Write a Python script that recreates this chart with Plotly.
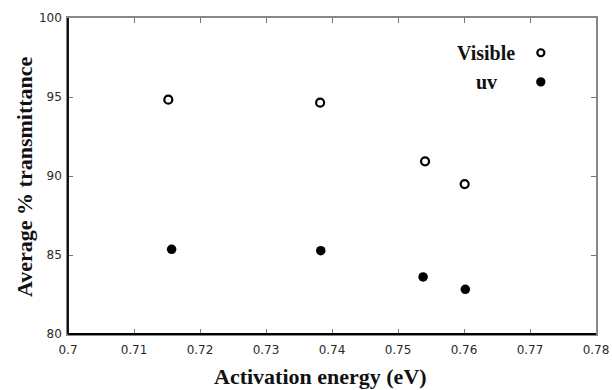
import plotly.graph_objects as go

# Data
activation_vis = [0.7152, 0.7382, 0.7541, 0.7601]
transmit_vis = [94.83, 94.64, 90.93, 89.49]
activation_uv = [0.7157, 0.7383, 0.7538, 0.7602]
transmit_uv = [85.36, 85.27, 83.61, 82.83]
legend_labels = ["Visible", "uv"]
x_title = "Activation energy (eV)"
y_title = "Average % transmittance"

fig = go.Figure()
fig.add_trace(go.Scatter(
    x=activation_vis, y=transmit_vis, mode="markers", name=legend_labels[0],
    marker=dict(symbol="circle-open", size=8, color="black", line=dict(width=2.2, color="black")),
    showlegend=False))
fig.add_trace(go.Scatter(
    x=activation_uv, y=transmit_uv, mode="markers", name=legend_labels[1],
    marker=dict(symbol="circle", size=9.5, color="black"),
    showlegend=False))

serif = "Liberation Serif, Times New Roman, serif"
tickfont = dict(family="DejaVu Sans, sans-serif", size=12, color="#2a2a2a")

fig.update_layout(
    width=612, height=390,
    margin=dict(l=68, r=16, t=18, b=56),
    paper_bgcolor="white", plot_bgcolor="white",
    xaxis=dict(range=[0.7, 0.78], dtick=0.01, tick0=0.7, showgrid=False, zeroline=False,
               automargin=False,
               showline=True, linecolor="#888", linewidth=1.5, mirror="ticks",
               ticks="inside", ticklen=5, tickcolor="#777", tickwidth=1,
               ticklabelstandoff=4, tickfont=tickfont),
    yaxis=dict(range=[80, 100], dtick=5, showgrid=False, zeroline=False,
               automargin=False,
               showline=True, linecolor="#888", linewidth=1.5, mirror="ticks",
               ticks="inside", ticklen=5, tickcolor="#777", tickwidth=1,
               ticklabelstandoff=2, tickfont=tickfont),
)

# Axis titles
fig.add_annotation(x=0.479, y=-0.1335, xref="paper", yref="paper", text=f"<b>{x_title}</b>",
                   showarrow=False, xanchor="center", yanchor="middle",
                   font=dict(family=serif, size=22, color="#111"))
fig.add_annotation(x=-0.0814, y=0.497, xref="paper", yref="paper", text=f"<b>{y_title}</b>",
                   showarrow=False, xanchor="center", yanchor="middle", textangle=-90,
                   font=dict(family=serif, size=22, color="#111"))

# Black left and bottom axis lines
fig.add_shape(type="line", xref="paper", yref="paper", x0=0, x1=0, y0=0, y1=1,
              line=dict(color="black", width=1.8))
fig.add_shape(type="line", xref="paper", yref="paper", x0=0, x1=1, y0=0, y1=0,
              line=dict(color="black", width=1.8))

# In-plot legend: text on the left, symbol on the right
leg_y = [0.890, 0.798]
for label, yy in zip(legend_labels, leg_y):
    fig.add_annotation(x=0.7917, y=yy, xref="paper", yref="paper", text=f"<b>{label}</b>",
                       showarrow=False, xanchor="center", yanchor="middle",
                       font=dict(family=serif, size=20, color="#111"))
fig.add_shape(type="circle", xref="paper", yref="paper", xsizemode="pixel", ysizemode="pixel",
              xanchor=0.8955, yanchor=leg_y[0], x0=-3.5, x1=3.5, y0=-3.5, y1=3.5,
              line=dict(color="black", width=2.2), fillcolor="white")
fig.add_shape(type="circle", xref="paper", yref="paper", xsizemode="pixel", ysizemode="pixel",
              xanchor=0.8955, yanchor=leg_y[1], x0=-4.7, x1=4.7, y0=-4.7, y1=4.7,
              line=dict(color="black", width=0), fillcolor="black")

# remove the browser's default body margin so the 612x390 figure fills the window exactly
fig.write_html("out.html",
               config={"displayModeBar": False},
               post_script="document.documentElement.style.overflow='hidden';"
                           "document.body.style.margin='0';document.body.style.overflow='hidden';")
